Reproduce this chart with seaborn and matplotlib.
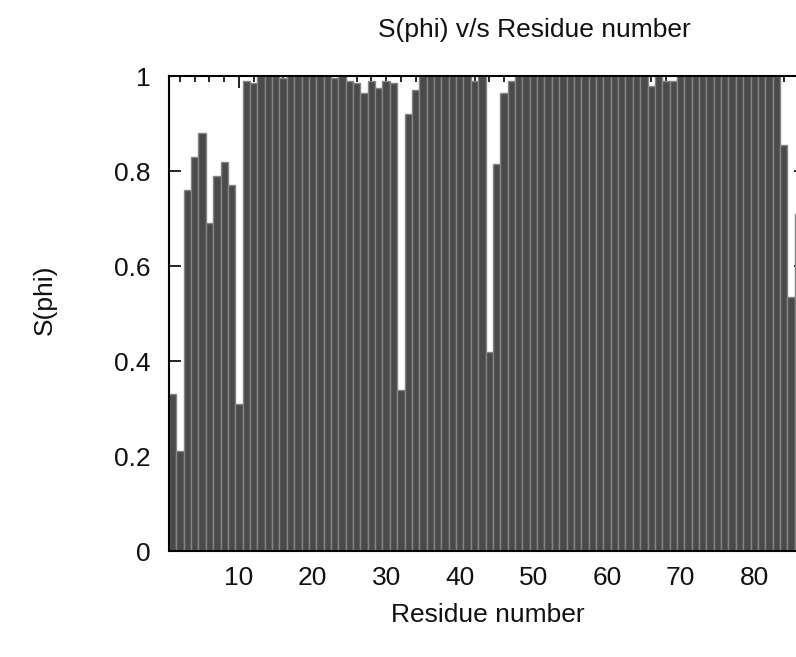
import numpy as np
import pandas as pd
import matplotlib
matplotlib.use("Agg")
import matplotlib.pyplot as plt
import seaborn as sns
from matplotlib.ticker import MultipleLocator, FormatStrFormatter

# data: order parameter per residue
residues = list(range(1, 87))
s_phi = [
    0.33, 0.21, 0.76, 0.83, 0.88, 0.69, 0.79, 0.82, 0.77, 0.31,   # 1-10
    0.99, 0.985, 1.0, 1.0, 1.0, 0.995, 1.0, 1.0, 1.0, 1.0,        # 11-20
    1.0, 1.0, 0.995, 1.0, 0.99, 0.985, 0.965, 0.99, 0.975, 0.99,  # 21-30
    0.985, 0.34, 0.92, 0.97, 1.0, 1.0, 1.0, 1.0, 1.0, 1.0,        # 31-40
    1.0, 0.99, 1.0, 0.42, 0.815, 0.965, 0.99, 1.0, 1.0, 1.0,      # 41-50
    1.0, 1.0, 1.0, 1.0, 1.0, 1.0, 1.0, 1.0, 1.0, 1.0,             # 51-60
    1.0, 1.0, 1.0, 1.0, 1.0, 0.98, 1.0, 0.99, 0.99, 1.0,          # 61-70
    1.0, 1.0, 1.0, 1.0, 1.0, 1.0, 1.0, 1.0, 1.0, 1.0,             # 71-80
    1.0, 1.0, 1.0, 0.855, 0.535, 0.71,                            # 81-86
]
x_major = [10, 20, 30, 40, 50, 60, 70, 80]
y_major = [0, 0.2, 0.4, 0.6, 0.8, 1.0]

df = pd.DataFrame({"residue": residues, "s_phi": s_phi})

sns.set_style("ticks")
plt.rcParams['font.family'] = ['Liberation Sans', 'DejaVu Sans']
plt.rcParams['text.color'] = '#111111'

fig = plt.figure(figsize=(7.96, 6.57), dpi=100)
# axes run past the right edge of the canvas, like the cropped original
ax = fig.add_axes([0.2123, 0.1613, 0.8, 0.723])

sns.barplot(
    data=df, x="residue", y="s_phi", native_scale=True, width=1,
    color="#4a4a4a", saturation=1, edgecolor="#858585", linewidth=1.0, ax=ax
)

ax.set_xlim(0.5, 87.0)
ax.set_ylim(0, 1)
ax.set_xticks(x_major)
ax.xaxis.set_minor_locator(MultipleLocator(2))
ax.set_yticks(y_major)
ax.yaxis.set_major_formatter(FormatStrFormatter('%g'))

ax.tick_params(which='both', direction='in', top=True, right=True,
               color='black', labelsize=19, labelcolor='#111111')
ax.tick_params(which='major', length=8.5, width=1.2)
ax.tick_params(which='minor', length=4.5, width=1.2)
ax.tick_params(axis='x', pad=11)
ax.tick_params(axis='y', pad=13)
for sp in ax.spines.values():
    sp.set_linewidth(1.5)
    sp.set_color('black')

ax.set_xlabel("Residue number", fontsize=19, labelpad=9, color='#111111')
ax.set_ylabel("")
fig.text(45 / 796, 1 - 300 / 657, "S(phi)", rotation=90, fontsize=19,
         ha='center', va='center')
fig.text(534 / 796, 1 - 30 / 657, "S(phi) v/s Residue number", fontsize=19,
         ha='center', va='center')

fig.savefig("out.png", dpi=100)
